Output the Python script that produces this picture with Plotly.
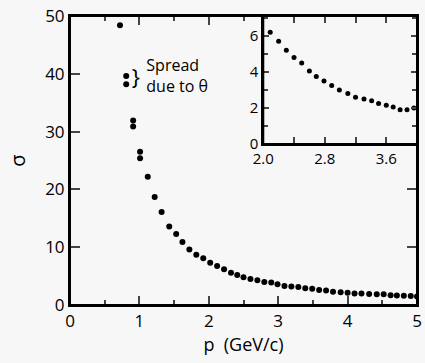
import plotly.graph_objects as go

# Main plot data: sigma vs p
p_main = [0.72, 0.81, 0.81, 0.91, 0.91, 1.01, 1.01, 1.12, 1.22, 1.32, 1.43, 1.53,
          1.62, 1.72, 1.82, 1.92, 2.02, 2.12, 2.22, 2.32, 2.41, 2.50, 2.60, 2.70,
          2.80, 2.90, 2.99, 3.09, 3.19, 3.29, 3.39, 3.49, 3.59, 3.69, 3.79, 3.90,
          4.00, 4.10, 4.20, 4.31, 4.42, 4.52, 4.62, 4.71, 4.81, 4.91, 5.00]
sigma_main = [48.4, 39.6, 38.2, 31.9, 30.9, 26.5, 25.4, 22.2, 18.7, 16.1, 13.6, 12.3,
              10.9, 9.6, 8.7, 8.1, 7.3, 6.75, 6.2, 5.6, 5.2, 4.8, 4.5, 4.3,
              4.0, 3.9, 3.6, 3.3, 3.2, 3.1, 2.9, 2.8, 2.6, 2.5, 2.3, 2.2,
              2.1, 2.0, 2.0, 1.9, 1.85, 1.85, 1.7, 1.65, 1.6, 1.55, 1.45]

# Inset data
p_inset = [2.09, 2.20, 2.30, 2.40, 2.50, 2.60, 2.69, 2.79, 2.89, 2.99, 3.10, 3.20,
           3.31, 3.41, 3.50, 3.60, 3.69, 3.78, 3.87, 3.96]
sigma_inset = [6.2, 5.7, 5.2, 4.8, 4.5, 4.05, 3.75, 3.5, 3.25, 3.0, 2.8, 2.6,
               2.5, 2.4, 2.25, 2.15, 2.05, 1.9, 1.9, 2.0]

# Text labels (placed in main-axis data coordinates)
note_text = ["}", "Spread<br>due to θ"]
note_x = [0.95, 1.1]
note_y = [39.0, 39.3]
corner_text = ["8-95", "6011A10"]
corner_x = [-0.83, 4.55]
corner_y = [-9.0, -9.0]

BG = "#f7f7f7"

fig = go.Figure()
fig.add_trace(go.Scatter(x=p_main, y=sigma_main, mode="markers",
                         marker=dict(color="black", size=6),
                         xaxis="x", yaxis="y"))
fig.add_trace(go.Scatter(x=p_inset, y=sigma_inset, mode="markers",
                         marker=dict(color="black", size=5),
                         xaxis="x2", yaxis="y2"))
fig.add_trace(go.Scatter(x=note_x[:1], y=note_y[:1], mode="text", text=note_text[:1],
                         textposition="middle center",
                         textfont=dict(size=22, color="black"),
                         xaxis="x", yaxis="y"))
fig.add_trace(go.Scatter(x=note_x[1:], y=note_y[1:], mode="text", text=note_text[1:],
                         textposition="middle right",
                         textfont=dict(size=16, color="black"),
                         xaxis="x", yaxis="y"))
fig.add_trace(go.Scatter(x=corner_x, y=corner_y, mode="text", text=corner_text,
                         textposition="middle right", cliponaxis=False,
                         textfont=dict(size=8, color="black"),
                         xaxis="x", yaxis="y"))

fig.update_layout(
    width=425, height=363,
    margin=dict(l=70, r=3, t=16, b=58),
    paper_bgcolor=BG, plot_bgcolor=BG,
    showlegend=False,
    xaxis=dict(range=[0, 5], tick0=0, dtick=1,
               showline=True, linecolor="black", linewidth=2, mirror="ticks",
               ticks="inside", tickwidth=2, ticklen=9, ticklabeloverflow="allow",
               gridcolor=BG, zerolinecolor="black",
               minor=dict(ticks="inside", ticklen=5, dtick=0.5, tick0=0),
               tickfont=dict(size=17, color="black"),
               title=dict(text="p  (GeV/c)", standoff=6,
                          font=dict(size=18, color="black"))),
    yaxis=dict(range=[0, 50], tick0=0, dtick=10,
               showline=True, linecolor="black", linewidth=2, mirror="ticks",
               ticks="inside", tickwidth=2, ticklen=10,
               gridcolor=BG, zerolinecolor="black",
               tickfont=dict(size=17, color="black"),
               title=dict(text="σ", standoff=14,
                          font=dict(size=20, color="black"))),
    xaxis2=dict(domain=[0.557, 1.0], anchor="y2", range=[2.0, 4.0],
                tick0=2.0, dtick=0.8, tickformat=".1f",
                showline=True, linecolor="black", linewidth=2, mirror="ticks",
                ticks="inside", tickwidth=2, ticklen=7,
                gridcolor=BG, zerolinecolor="black",
                minor=dict(ticks="inside", ticklen=7, dtick=0.4, tick0=2.0),
                tickfont=dict(size=15, color="black")),
    yaxis2=dict(domain=[0.557, 1.0], anchor="x2", range=[0, 7.1],
                tick0=0, dtick=2,
                showline=True, linecolor="black", linewidth=2, mirror="ticks",
                ticks="inside", tickwidth=2, ticklen=6,
                gridcolor=BG, zerolinecolor="black",
                minor=dict(ticks="inside", ticklen=5, dtick=1, tick0=0),
                tickfont=dict(size=15, color="black")),
    shapes=[
        dict(type="rect", xref="x domain", yref="y domain", x0=0, x1=1, y0=0, y1=1,
             line=dict(color="black", width=2), fillcolor="rgba(0,0,0,0)", layer="above"),
        dict(type="rect", xref="x2 domain", yref="y2 domain", x0=0, x1=1, y0=0, y1=1,
             line=dict(color="black", width=2), fillcolor="rgba(0,0,0,0)", layer="above"),
    ],
)

fig.write_html("out.html")
